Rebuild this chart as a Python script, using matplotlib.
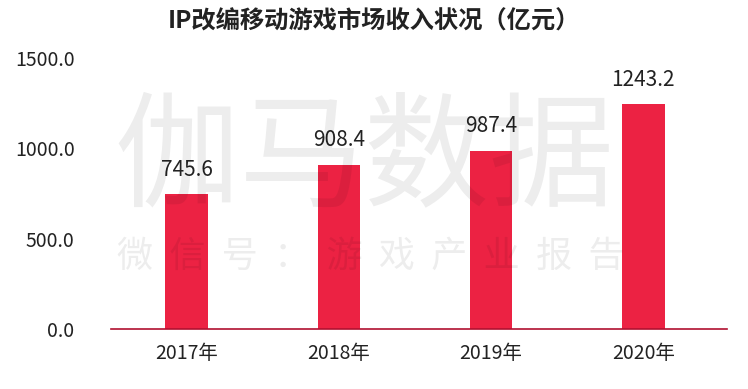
import matplotlib
matplotlib.use("Agg")
import matplotlib.pyplot as plt

plt.rcParams['font.family'] = ['Noto Sans CJK SC', 'DejaVu Sans']

categories = ['2017年', '2018年', '2019年', '2020年']
values = [745.6, 908.4, 987.4, 1243.2]
yticks = [0, 500, 1000, 1500]
title = 'IP改编移动游戏市场收入状况（亿元）'

fig = plt.figure(figsize=(7.48, 3.89), dpi=100)
ax = fig.add_axes([0.148, 0.154, 0.824, 0.697])

x = range(len(categories))
ax.bar(x, values, width=0.28, color='#EC2243', zorder=2)
for xi, v in zip(x, values):
    ax.text(xi, v + 75, f'{v:.1f}', ha='center', va='bottom', fontsize=15, color='#222222', zorder=3)

# watermark (semi-transparent, over the plot)
ax.text(0.487, 0.585, '伽马数据', transform=fig.transFigure, fontsize=90, fontweight='light',
        color='black', alpha=0.07, ha='center', va='center', zorder=5, clip_on=False)
ax.text(0.495, 0.34, '微  信  号  ：  游  戏  产  业  报  告', transform=fig.transFigure, fontsize=26,
        fontweight='light', color='black', alpha=0.07, ha='center', va='center', zorder=5, clip_on=False)

ax.set_xlim(-0.5, 3.55)
ax.set_ylim(0, 1500)
ax.set_yticks(yticks)
ax.set_yticklabels([f'{t:.1f}' for t in yticks], fontsize=14, color='#222222')
ax.set_xticks(list(x))
ax.set_xticklabels(categories, fontsize=14, color='#222222')
ax.tick_params(axis='both', length=0)
ax.tick_params(axis='x', pad=10)
ax.tick_params(axis='y', pad=26)
for s in ['top', 'right', 'left']:
    ax.spines[s].set_visible(False)
ax.spines['bottom'].set_color('#B01030')
ax.spines['bottom'].set_linewidth(1.2)
ax.patch.set_alpha(0)

fig.text(0.5, 0.945, title, fontsize=17.5, fontweight='bold', ha='center', va='center', color='#222222')

fig.savefig('out.png', dpi=100)
